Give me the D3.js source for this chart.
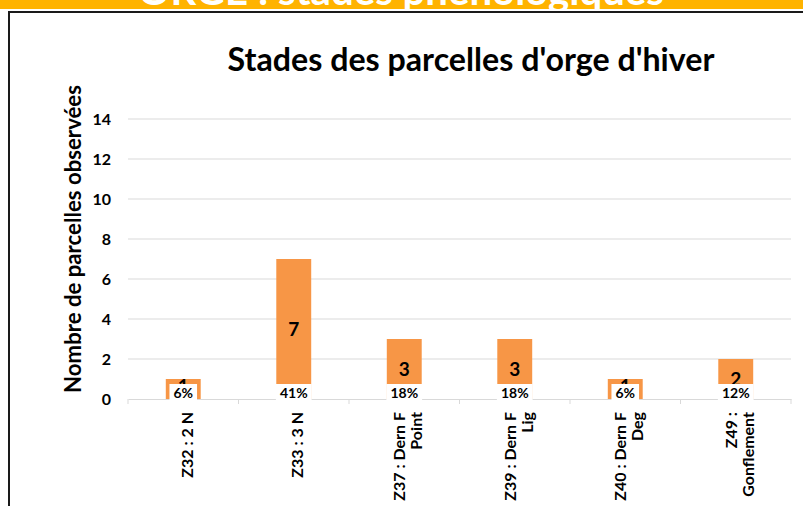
<!DOCTYPE html>
<html>
<head>
<meta charset="utf-8">
<script src="https://cdn.jsdelivr.net/npm/d3@7"></script>
<style>
  html, body { margin: 0; padding: 0; background: #fff; }
  svg { display: block; font-family: Lato, 'Open Sans', sans-serif; }
</style>
</head>
<body>
<div id="chart"></div>
<script>
// Chart data
const stages = [
  'Z32 : 2 N',
  'Z33 : 3 N',
  'Z37 : Dern F\nPoint',
  'Z39 : Dern F\nLig',
  'Z40 : Dern F\nDeg',
  'Z49 :\nGonflement',
]
const counts = [1, 7, 3, 3, 1, 2]
const percents = [6, 41, 18, 18, 6, 12]
const yTicks = [0, 2, 4, 6, 8, 10, 12, 14]

const bannerText = 'ORGE : stades phénologiques'
const titleText = "Stades des parcelles d'orge d'hiver"
const yLabelText = 'Nombre de parcelles  observées'

const width = 803
const height = 506
const plot = { left: 128, right: 791, top: 119, bottom: 399 }

const svg = d3
  .select('#chart')
  .append('svg')
  .attr('width', width)
  .attr('height', height)

// Resize a text's font so it spans the wanted width
function fitText(sel, target) {
  const fs = parseFloat(sel.attr('font-size'))
  const w = sel.node().getComputedTextLength()
  sel.attr('font-size', (fs * target) / w)
}

// Banner at the top (text cut by the band)
svg.append('clipPath').attr('id', 'bannerClip')
  .append('rect').attr('x', 0).attr('y', 0).attr('width', width).attr('height', 9)
svg.append('rect')
  .attr('x', 0).attr('y', 0).attr('width', width).attr('height', 9)
  .attr('fill', '#FFB300')
const banner = svg.append('text')
  .attr('clip-path', 'url(#bannerClip)')
  .attr('x', 401).attr('y', 5)
  .attr('text-anchor', 'middle')
  .attr('font-size', 34)
  .attr('font-weight', 'bold')
  .attr('fill', '#fff')
  .text(bannerText)
fitText(banner, 526)

// Chart frame
svg.append('rect')
  .attr('x', 9).attr('y', 12)
  .attr('width', width + 10).attr('height', height)
  .attr('fill', 'none')
  .attr('stroke', '#1a1a1a')
  .attr('stroke-width', 2)

// Title
const title = svg.append('text')
  .attr('x', 471).attr('y', 71)
  .attr('text-anchor', 'middle')
  .attr('font-size', 28)
  .attr('font-weight', 'bold')
  .attr('fill', '#000')
  .text(titleText)
fitText(title, 487)

// Scales
const xCat = d3.scaleBand().domain(stages).range([plot.left, plot.right]).padding(0)
const x = d3.scaleBand()
  .domain(stages)
  .range([plot.left, plot.right])
  .paddingInner(0.684)
  .paddingOuter(0.342)
const y = d3.scaleLinear().domain([0, 14]).range([plot.bottom, plot.top])

// Grid lines
svg.append('g')
  .selectAll('line')
  .data(yTicks.filter((d) => d > 0))
  .join('line')
  .attr('x1', plot.left).attr('x2', plot.right)
  .attr('y1', (d) => y(d)).attr('y2', (d) => y(d))
  .attr('stroke', '#d9d9d9')
  .attr('stroke-width', 1)

// Y axis tick labels
const yAxis = d3.axisLeft(y).tickValues(yTicks).tickSize(0).tickPadding(17)
const yAxisG = svg.append('g')
  .attr('transform', `translate(${plot.left},0)`)
  .call(yAxis)
yAxisG.select('.domain').remove()
yAxisG.selectAll('text')
  .attr('font-size', 16)
  .attr('font-weight', 'bold')
  .attr('font-family', 'Lato, sans-serif')
  .attr('fill', '#000')

// Y axis label
const yLabel = svg.append('text')
  .attr('transform', 'translate(81,239) rotate(-90)')
  .attr('text-anchor', 'middle')
  .attr('font-size', 20)
  .attr('font-weight', 'bold')
  .attr('fill', '#000')
  .text(yLabelText)
fitText(yLabel, 308)

// Bars
svg.append('g')
  .selectAll('rect')
  .data(counts)
  .join('rect')
  .attr('x', (d, i) => x(stages[i]))
  .attr('y', (d) => y(d))
  .attr('width', x.bandwidth())
  .attr('height', (d) => y(0) - y(d))
  .attr('fill', '#F79646')

// X axis line and category ticks
const xAxis = d3.axisBottom(xCat).tickSize(0).tickFormat('')
const xAxisG = svg.append('g')
  .attr('transform', `translate(0,${plot.bottom})`)
  .call(xAxis)
xAxisG.select('.domain').attr('stroke', '#d9d9d9')
xAxisG.selectAll('.tick').remove()
xAxisG.selectAll('.cat-tick')
  .data(d3.range(stages.length + 1))
  .join('line')
  .attr('class', 'cat-tick')
  .attr('x1', (i) => plot.left + i * xCat.step())
  .attr('x2', (i) => plot.left + i * xCat.step())
  .attr('y1', 0).attr('y2', 5)
  .attr('stroke', '#d9d9d9')

// Value labels in the middle of the bars
svg.append('g')
  .selectAll('text')
  .data(counts)
  .join('text')
  .attr('x', (d, i) => x(stages[i]) + x.bandwidth() / 2)
  .attr('y', (d) => (y(d) + y(0)) / 2 - (d < 2 ? 3 : 0))
  .attr('dy', '0.35em')
  .attr('text-anchor', 'middle')
  .attr('font-size', 19)
  .attr('font-weight', 'bold')
  .attr('fill', '#000')
  .text((d) => d)

// Percentage labels in white boxes at the base
const pct = svg.append('g')
  .selectAll('g')
  .data(percents)
  .join('g')
  .attr('transform', (d, i) =>
    `translate(${x(stages[i]) + x.bandwidth() / 2},${plot.bottom - 6})`)
pct.append('text')
  .attr('dy', '0.36em')
  .attr('text-anchor', 'middle')
  .attr('font-size', 14)
  .attr('font-weight', 'bold')
  .attr('fill', '#000')
  .text((d) => d + '%')
pct.insert('rect', 'text')
  .each(function () {
    const w = this.parentNode.querySelector('text').getComputedTextLength() + 8
    d3.select(this)
      .attr('x', -w / 2).attr('width', w)
      .attr('y', -9).attr('height', 19)
  })
  .attr('fill', '#fff')

// Category labels, rotated
const catLabels = svg.append('g')
  .selectAll('text')
  .data(stages)
  .join('text')
  .attr('transform', (d) =>
    `translate(${xCat(d) + xCat.bandwidth() / 2 + 4},412) rotate(-90)`)
  .attr('text-anchor', 'end')
  .attr('font-size', 16)
  .attr('font-weight', 'bold')
  .attr('fill', '#000')
catLabels.each(function (d) {
  const lines = d.split('\n')
  d3.select(this)
    .selectAll('tspan')
    .data(lines)
    .join('tspan')
    .attr('x', 0)
    .attr('y', (l, j) => (j - (lines.length - 1) / 2) * 17)
    .attr('dy', '0.35em')
    .text((l) => l)
})
</script>
</body>
</html>
